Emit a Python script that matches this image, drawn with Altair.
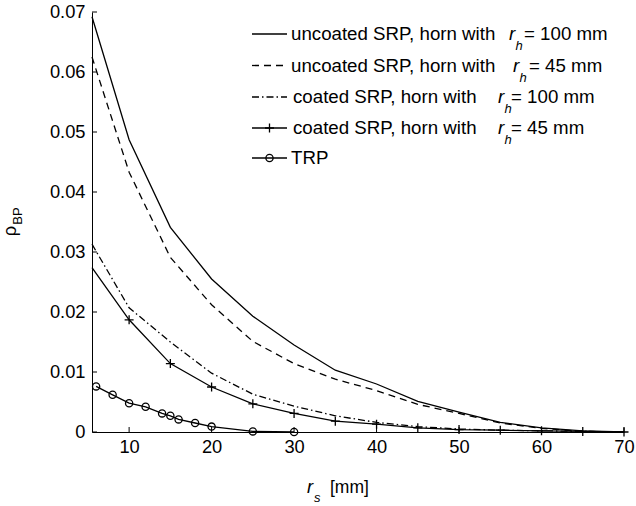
import altair as alt
import pandas as pd

# ---------------- data ----------------
x_srp = [5.5, 10, 15, 20, 25, 30, 35, 40, 45, 50, 55, 60, 65, 70]
uncoated_100 = [0.0692, 0.0487, 0.0341, 0.0255, 0.0193, 0.0145, 0.0103, 0.0080, 0.0051, 0.0033, 0.0016, 0.0007, 0.0002, 0.0]
uncoated_45 = [0.0625, 0.0433, 0.0291, 0.0212, 0.0151, 0.0114, 0.0088, 0.0069, 0.0046, 0.0031, 0.0015, 0.0006, 0.0001, 0.0]
coated_100 = [0.0313, 0.0207, 0.0150, 0.0098, 0.0063, 0.0043, 0.0027, 0.0016, 0.0009, 0.0005, 0.0003, 0.0002, 0.0001, 0.0]
coated_45 = [0.0274, 0.0187, 0.0114, 0.0075, 0.0047, 0.0031, 0.0018, 0.0013, 0.0007, 0.0004, 0.0003, 0.0002, 0.0001, 0.0]
x_trp = [6, 8, 10, 12, 14, 15, 16, 18, 20, 25, 30]
trp = [0.0076, 0.0062, 0.0048, 0.0042, 0.0031, 0.0027, 0.0021, 0.0015, 0.0009, 0.0001, 0.0]

x_ticks = [10, 20, 30, 40, 50, 60, 70]
y_ticks = [0, 0.01, 0.02, 0.03, 0.04, 0.05, 0.06, 0.07]

legend_main = ["uncoated SRP, horn with", "uncoated SRP, horn with", "coated SRP, horn with",
               "coated SRP, horn with", "TRP"]
legend_eq = ["= 100 mm", "= 45 mm", "= 100 mm", "= 45 mm", ""]

rows = []
for name, vals in [("u100", uncoated_100), ("u45", uncoated_45), ("c100", coated_100), ("c45", coated_45)]:
    for x, y in zip(x_srp, vals):
        rows.append({"series": name, "x": x, "y": y})
for x, y in zip(x_trp, trp):
    rows.append({"series": "trp", "x": x, "y": y})
df = pd.DataFrame(rows)

FONT = "Liberation Sans"
FS = 18.3
LFS = 18.7
W, H = 532, 420
SW = 1.3
PLUS = "M-1,0L1,0M0,-1L0,1"

xs = alt.Scale(domain=[5.5, 70], nice=False, zero=False)
ys = alt.Scale(domain=[0, 0.07], nice=False, zero=False)
x_axis = alt.Axis(values=x_ticks, format="d", ticks=False, grid=False, domainColor="black",
                  domainWidth=1, labelFont=FONT, labelFontSize=FS, labelColor="black",
                  labelPadding=6, title=None, labelFlush=False, labelOverlap=False)
y_axis = alt.Axis(values=y_ticks, labelExpr="datum.value == 0 ? '0' : format(datum.value, '.2f')",
                  ticks=False, grid=False, domainColor="black", domainWidth=1, labelFont=FONT,
                  labelFontSize=FS, labelColor="black", labelPadding=7, title=None,
                  labelFlush=False, labelOverlap=False)
X = alt.X("x:Q", scale=xs, axis=x_axis)
Y = alt.Y("y:Q", scale=ys, axis=y_axis)

base = alt.Chart(df)


def series_line(name, dash=None):
    kw = dict(color="black", strokeWidth=SW)
    if dash:
        kw["strokeDash"] = dash
    return base.transform_filter(alt.datum.series == name).mark_line(**kw).encode(x=X, y=Y)


layers = [
    series_line("u100"),
    series_line("u45", [7, 5]),
    series_line("c100", [7, 3, 1.5, 3]),
    series_line("c45"),
    base.transform_filter((alt.datum.series == "c45") & (alt.datum.x >= 10)).mark_point(
        shape=PLUS, size=81, color="black", strokeWidth=SW, filled=False, opacity=1).encode(x=X, y=Y),
    series_line("trp"),
    base.transform_filter(alt.datum.series == "trp").mark_point(
        shape="circle", size=52, color="black", strokeWidth=SW, filled=False, opacity=1).encode(x=X, y=Y),
]

# inward tick marks
xt = pd.DataFrame({"x": x_ticks})
yt = pd.DataFrame({"y": y_ticks})
layers.append(alt.Chart(xt).mark_rule(color="black", strokeWidth=1).encode(
    x=X, y=alt.value(H), y2=alt.value(H - 5)))
layers.append(alt.Chart(yt).mark_rule(color="black", strokeWidth=1).encode(
    y=Y, x=alt.value(0), x2=alt.value(5)))

# legend (drawn manually inside the plot)
one = pd.DataFrame({"a": [0]})
row_y = [22, 53.5, 85, 116, 146]
dashes = [None, [7, 5], [7, 3, 1.5, 3], None, None]
markers = [None, None, None, PLUS, "circle"]
text_x = [199, 199, 201, 201, 199]
r_x = [417, 421, 406, 406]
eq_x = [431, 436, 418, 418]
for i in range(5):
    kw = dict(color="black", strokeWidth=SW)
    if dashes[i]:
        kw["strokeDash"] = dashes[i]
    layers.append(alt.Chart(one).mark_rule(**kw).encode(
        x=alt.value(160), x2=alt.value(195), y=alt.value(row_y[i])))
    if markers[i]:
        layers.append(alt.Chart(one).mark_point(
            shape=markers[i], size=81 if markers[i] == PLUS else 52, color="black",
            strokeWidth=SW, filled=False, opacity=1).encode(
            x=alt.value(177.5), y=alt.value(row_y[i])))
    layers.append(alt.Chart(one).mark_text(
        text=legend_main[i], font=FONT, fontSize=LFS, align="left", baseline="middle",
        color="black").encode(x=alt.value(text_x[i]), y=alt.value(row_y[i])))
    if i < 4:
        layers.append(alt.Chart(one).mark_text(
            text="r", font=FONT, fontSize=LFS, fontStyle="italic", align="left",
            baseline="middle", color="black").encode(x=alt.value(r_x[i]), y=alt.value(row_y[i])))
        layers.append(alt.Chart(one).mark_text(
            text="h", font=FONT, fontSize=13, fontStyle="italic", align="left",
            baseline="middle", color="black").encode(x=alt.value(r_x[i] + 6.5), y=alt.value(row_y[i] + 12)))
        layers.append(alt.Chart(one).mark_text(
            text=legend_eq[i], font=FONT, fontSize=LFS, align="left", baseline="middle",
            color="black").encode(x=alt.value(eq_x[i] + 1), y=alt.value(row_y[i])))

# axis titles
layers.append(alt.Chart(one).mark_text(
    text="ρ", font=FONT, fontSize=FS, angle=270, align="center", baseline="middle",
    color="black").encode(x=alt.value(-81), y=alt.value(219)))
layers.append(alt.Chart(one).mark_text(
    text="BP", font=FONT, fontSize=13, angle=270, align="center", baseline="middle",
    color="black").encode(x=alt.value(-74), y=alt.value(204)))
layers.append(alt.Chart(one).mark_text(
    text="r", font=FONT, fontSize=FS, fontStyle="italic", align="left", baseline="alphabetic",
    color="black").encode(x=alt.value(215), y=alt.value(481)))
layers.append(alt.Chart(one).mark_text(
    text="s", font=FONT, fontSize=13, fontStyle="italic", align="left", baseline="alphabetic",
    color="black").encode(x=alt.value(222), y=alt.value(490)))
layers.append(alt.Chart(one).mark_text(
    text="[mm]", font=FONT, fontSize=17.5, align="left", baseline="alphabetic",
    color="black").encode(x=alt.value(238), y=alt.value(481)))

chart = alt.layer(*layers).properties(
    width=W, height=H,
    autosize=alt.AutoSizeParams(type="none"),
    padding={"left": 92, "top": 12, "right": 12, "bottom": 74},
    background="white",
).configure_view(stroke=None)

chart.save("out.html", embed_options={"renderer": "svg", "actions": False})
